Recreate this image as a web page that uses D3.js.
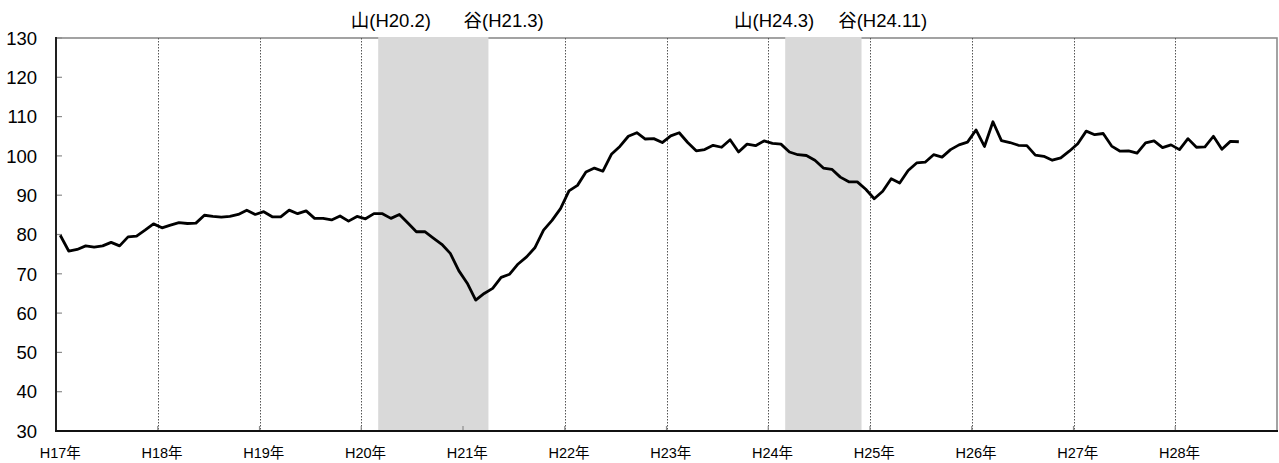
<!DOCTYPE html>
<html>
<head>
<meta charset="utf-8">
<script src="https://cdn.jsdelivr.net/npm/d3@7"></script>
<style>
  body { margin:0; background:#fff; }
  text { font-family: "Liberation Sans", Arial, "Noto Sans CJK JP", sans-serif; fill:#000; }
  .grid line { stroke:#555; stroke-width:1; stroke-dasharray:1.5,1.5; }
</style>
</head>
<body>
<div id="chart"></div>
<script>

// year labels (one per 12 months, starting H17.1)
var years = ['H17年','H18年','H19年','H20年','H21年','H22年','H23年','H24年','H25年','H26年','H27年','H28年'];

// monthly index, H17.1 .. H28.8
var values = [
  79.8, 75.8, 76.2, 77.1, 76.8, 77.1, 78.0, 77.1, 79.4, 79.6, 81.1, 82.7,
  81.7, 82.4, 83.0, 82.8, 82.9, 84.9, 84.6, 84.4, 84.6, 85.1, 86.2, 85.1,
  85.8, 84.5, 84.5, 86.2, 85.3, 86.0, 84.1, 84.1, 83.7, 84.7, 83.4, 84.6,
  84.0, 85.3, 85.3, 84.1, 85.1, 82.9, 80.7, 80.7, 79.1, 77.5, 75.2, 70.8,
  67.6, 63.3, 65.0, 66.3, 69.1, 69.9, 72.5, 74.3, 76.7, 81.1, 83.6, 86.6,
  91.1, 92.5, 95.9, 96.9, 96.1, 100.4, 102.4, 105.0, 105.9, 104.3, 104.4, 103.4,
  105.1, 105.9, 103.4, 101.3, 101.6, 102.7, 102.2, 104.1, 101.0, 103.0, 102.6, 103.8,
  103.2, 103.0, 101.0, 100.3, 100.1, 98.9, 96.9, 96.6, 94.6, 93.4, 93.4, 91.5,
  89.1, 91.0, 94.2, 93.1, 96.3, 98.2, 98.4, 100.3, 99.7, 101.6, 102.8, 103.5,
  106.6, 102.4, 108.7, 103.9, 103.4, 102.7, 102.6, 100.2, 99.9, 98.9, 99.5, 101.2,
  103.1, 106.3, 105.4, 105.7, 102.5, 101.2, 101.3, 100.7, 103.3, 103.8, 102.1, 102.8,
  101.6, 104.4, 102.2, 102.3, 105.0, 101.7, 103.7, 103.6
];

var yTicks = [30, 40, 50, 60, 70, 80, 90, 100, 110, 120, 130];

// shaded recession spans, in months counted from H17.1 (start inclusive, end exclusive)
var shadeFrom = [38, 86];
var shadeTo   = [51, 95];

// peak / trough labels and where they sit (month position)
var cycleLabels = ['山(H20.2)', '谷(H21.3)', '山(H24.3)', '谷(H24.11)'];
var cycleLabelAt = [39.5, 52.8, 84.7, 97.5];

(function drawChart() {
  var W = 1279, H = 463;
  var m = { left:56, right:1277, top:38, bottom:431 };

  var svg = d3.select('#chart').append('svg')
    .attr('width', W).attr('height', H);

  var nMonths = years.length * 12;
  var x = d3.scaleLinear().domain([0, nMonths]).range([m.left, m.right]);
  var y = d3.scaleLinear().domain([30, 130]).range([m.bottom, m.top]);

  // plot border (top / right)
  svg.append('rect')
    .attr('x', m.left).attr('y', m.top)
    .attr('width', m.right - m.left).attr('height', m.bottom - m.top)
    .attr('fill', 'none').attr('stroke', '#8c8c8c').attr('stroke-width', 1.6);

  // vertical year grid
  var gridYears = d3.range(1, years.length);
  svg.append('g').attr('class', 'grid')
    .selectAll('line').data(gridYears).enter()
    .append('line')
      .attr('x1', function(d){ return Math.round(x(d*12)) + 0.5; })
      .attr('x2', function(d){ return Math.round(x(d*12)) + 0.5; })
      .attr('y1', m.top).attr('y2', m.bottom);

  // recession shading
  svg.append('g').selectAll('rect').data(shadeFrom).enter()
    .append('rect')
      .attr('x', function(d){ return x(d); })
      .attr('width', function(d,i){ return x(shadeTo[i]) - x(d); })
      .attr('y', m.top - 1).attr('height', m.bottom - m.top + 1)
      .attr('fill', '#d9d9d9');

  // y ticks (inward) and labels
  var yAxis = svg.append('g');
  yAxis.selectAll('line').data(yTicks).enter()
    .append('line')
      .attr('x1', m.left).attr('x2', m.left + 6)
      .attr('y1', function(d){ return y(d); })
      .attr('y2', function(d){ return y(d); })
      .attr('stroke', '#8c8c8c').attr('stroke-width', 1.2);
  yAxis.selectAll('text').data(yTicks).enter()
    .append('text')
      .attr('x', 37)
      .attr('y', function(d){ return y(d) + 6.7; })
      .attr('text-anchor', 'end')
      .style('font-size', '18.5px')
      .text(function(d){ return d; });

  // x ticks (inward) and labels
  var xAxis = svg.append('g');
  xAxis.selectAll('line').data(gridYears).enter()
    .append('line')
      .attr('x1', function(d){ return x(d*12); })
      .attr('x2', function(d){ return x(d*12); })
      .attr('y1', m.bottom).attr('y2', m.bottom - 5)
      .attr('stroke', '#8c8c8c').attr('stroke-width', 1.2);
  xAxis.selectAll('text').data(years).enter()
    .append('text')
      .attr('x', function(d,i){ return x(i*12 + 0.5); })
      .attr('y', 458)
      .attr('text-anchor', 'middle')
      .style('font-size', '14.5px')
      .text(function(d){ return d; });

  // axis lines
  svg.append('line')
    .attr('x1', m.left).attr('x2', m.left).attr('y1', m.top - 1).attr('y2', m.bottom + 1)
    .attr('stroke', '#111').attr('stroke-width', 1.8);
  svg.append('line')
    .attr('x1', m.left - 1).attr('x2', m.right + 1).attr('y1', m.bottom).attr('y2', m.bottom)
    .attr('stroke', '#111').attr('stroke-width', 1.8);

  // series line
  var line = d3.line()
    .x(function(d,i){ return x(i + 0.5); })
    .y(function(d){ return y(d); });

  svg.append('path')
    .datum(values)
    .attr('d', line)
    .attr('fill', 'none')
    .attr('stroke', '#000')
    .attr('stroke-width', 2.8)
    .attr('stroke-linejoin', 'round');

  // peak / trough labels
  svg.append('g').selectAll('text').data(cycleLabels).enter()
    .append('text')
      .attr('x', function(d,i){ return x(cycleLabelAt[i]); })
      .attr('y', 27)
      .attr('text-anchor', 'middle')
      .style('font-size', '18.5px')
      .text(function(d){ return d; });
})();

</script>
</body>
</html>
